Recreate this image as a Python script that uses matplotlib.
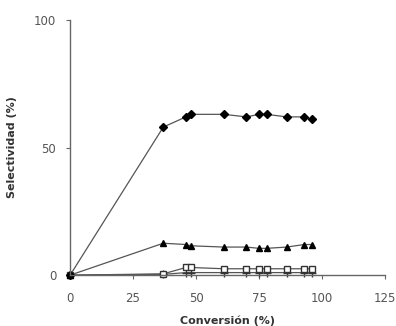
import numpy as np
import matplotlib.pyplot as plt

# Conversion (%) and selectivity (%) per product
conversion = [0, 37, 46, 48, 61, 70, 75, 78, 86, 93, 96]
sel_diamond = [0, 58, 62, 63, 63, 62, 63, 63, 62, 62, 61]
sel_triangle = [0, 12.5, 12, 11.5, 11, 11, 10.5, 10.5, 11, 12, 12]
sel_square = [0, 0.5, 3, 3, 2.5, 2.5, 2.5, 2.5, 2.5, 2.5, 2.5]
sel_cross = [0, 0.3, 1, 1, 1, 1, 1, 1, 1, 1, 1]

xticks = [0, 25, 50, 75, 100, 125]
yticks = [0, 50, 100]

fig = plt.figure(figsize=(3.96, 3.26), dpi=100)
ax = fig.add_axes([0.177, 0.156, 0.795, 0.783])

line_kw = dict(color='#555555', lw=0.9)
ax.plot(conversion, sel_cross, marker='+', ms=6, mec='#333333', **line_kw)
ax.plot(conversion, sel_square, marker='s', ms=4.5, mfc='white', mec='#333333', **line_kw)
ax.plot(conversion, sel_triangle, marker='^', ms=5, mfc='black', mec='black', **line_kw)
ax.plot(conversion, sel_diamond, marker='D', ms=4, mfc='black', mec='black', **line_kw)

ax.set_xlim(0, 125)
ax.set_ylim(0, 100)
ax.set_xticks(xticks)
ax.set_yticks(yticks)

for side in ['top', 'right']:
    ax.spines[side].set_visible(False)
for side in ['left', 'bottom']:
    ax.spines[side].set_color('#666666')
    ax.spines[side].set_linewidth(1.0)
ax.tick_params(colors='#666666', labelsize=8.5, length=3, width=0.8, direction='out')
ax.tick_params(axis='x', pad=9)
ax.tick_params(axis='y', pad=7)
for lbl in ax.get_xticklabels() + ax.get_yticklabels():
    lbl.set_color('#555555')

ax.set_xlabel('Conversión (%)', fontsize=8, fontweight='bold', color='#333333', labelpad=8)
ax.set_ylabel('Selectividad (%)', fontsize=8, fontweight='bold', color='#333333', labelpad=12)
for sp in ax.spines.values():
    sp.set_clip_on(False)
for l in ax.lines:
    l.set_clip_on(False)

fig.savefig('out.png', dpi=100)
